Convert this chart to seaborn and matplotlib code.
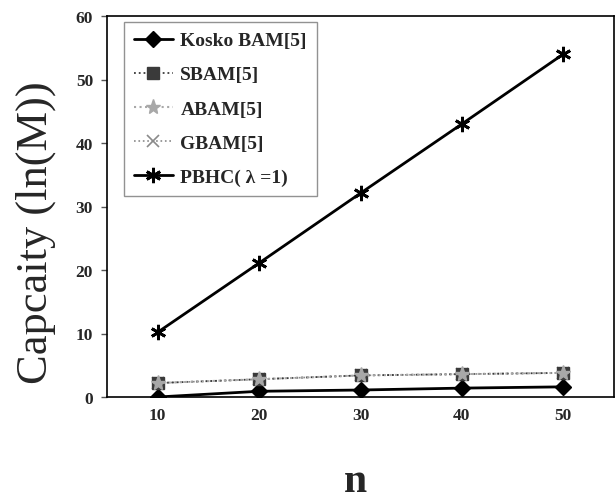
import matplotlib
matplotlib.use("Agg")
import matplotlib.pyplot as plt
import seaborn as sns
import pandas as pd
from matplotlib.ticker import FixedLocator

# Network size n
n_values = [10, 20, 30, 40, 50]

# Capacity ln(M) for each model
kosko_bam = [0.0, 0.9, 1.1, 1.4, 1.6]
sbam = [2.2, 2.8, 3.4, 3.6, 3.8]
abam = [2.2, 2.8, 3.4, 3.6, 3.8]
gbam = [2.2, 2.8, 3.4, 3.6, 3.8]
pbhc = [10.2, 21.1, 32.1, 43.0, 54.0]

series_names = ["Kosko BAM[5]", "SBAM[5]", "ABAM[5]", "GBAM[5]", "PBHC( \u03bb =1)"]
series_values = [kosko_bam, sbam, abam, gbam, pbhc]

frames = []
for name, vals in zip(series_names, series_values):
    frames.append(pd.DataFrame({"n": n_values, "capacity": vals, "model": name}))
df = pd.concat(frames, ignore_index=True)

sns.set_theme(style="white")
plt.rcParams["font.family"] = ["Liberation Serif", "DejaVu Serif"]

styles = {
    "Kosko BAM[5]": dict(color="black", marker="D", markersize=8, linewidth=2.0,
                         linestyle="-", markeredgecolor="black"),
    "GBAM[5]": dict(color="#8a8a8a", marker="x", markersize=8, linewidth=1.2,
                    linestyle=":", markeredgecolor="#8a8a8a", markeredgewidth=1.2),
    "SBAM[5]": dict(color="#3a3a3a", marker="s", markersize=9, linewidth=1.3,
                    linestyle=":", markeredgecolor="#3a3a3a"),
    "ABAM[5]": dict(color="#a8a8a8", marker="*", markersize=11, linewidth=1.5,
                    linestyle=":", markeredgecolor="#a8a8a8"),
    "PBHC( \u03bb =1)": dict(color="black", marker=(6, 2, 0), markersize=11,
                              linewidth=2.0, linestyle="-", markeredgecolor="black",
                              markeredgewidth=2.0),
}

fig = plt.figure(figsize=(6.15, 5.02), dpi=100)
ax = fig.add_axes([107 / 615, 104 / 502, 507 / 615, 381 / 502])

draw_order = ["Kosko BAM[5]", "GBAM[5]", "SBAM[5]", "ABAM[5]", "PBHC( \u03bb =1)"]
handles = {}
for name in draw_order:
    sub = df[df["model"] == name]
    st = styles[name]
    sns.lineplot(data=sub, x="n", y="capacity", ax=ax, color=st["color"],
                 marker=st["marker"], markersize=st["markersize"],
                 linewidth=st["linewidth"], linestyle=st["linestyle"],
                 markeredgecolor=st["markeredgecolor"],
                 markeredgewidth=st.get("markeredgewidth", 1.0),
                 label=name, legend=False, errorbar=None)
    handles[name] = ax.lines[-1]

ax.set_xlim(5, 55)
ax.set_ylim(0, 60)
ax.set_xticks(n_values)
ax.set_yticks([0, 10, 20, 30, 40, 50, 60])
ax.xaxis.set_minor_locator(FixedLocator([15, 25, 35, 45]))
ax.tick_params(axis="x", which="major", length=0, pad=7)
ax.tick_params(axis="x", which="minor", length=4, direction="in", width=1, color="#555")
ax.tick_params(axis="y", which="major", length=4, direction="out", width=1, pad=6,
               left=True, color="#555")
for lab in ax.get_xticklabels() + ax.get_yticklabels():
    lab.set_fontweight("bold")
    lab.set_fontsize(12.5)

for side in ["left", "bottom", "top", "right"]:
    ax.spines[side].set_color("black")
    ax.spines[side].set_linewidth(1.2)

ax.set_xlabel("n", fontsize=30, fontweight="bold")
ax.xaxis.set_label_coords((355 - 107) / 507, (398 - 463) / 381)
ax.set_ylabel("Capcaity (ln(M))", fontsize=32)
ax.yaxis.set_label_coords((56 - 107) / 507, (398 - 233) / 381)

leg = ax.legend([handles[n] for n in series_names], series_names,
                loc="upper left", bbox_to_anchor=(124 / 615, 1 - 23 / 502),
                bbox_transform=fig.transFigure, frameon=True, fancybox=False,
                prop={"weight": "bold", "size": 14}, handlelength=2.0,
                handletextpad=0.4, labelspacing=0.85, borderpad=0.5,
                borderaxespad=0)
leg.get_frame().set_edgecolor("#777777")
leg.get_frame().set_linewidth(1.0)

fig.savefig("out.png", dpi=100)
